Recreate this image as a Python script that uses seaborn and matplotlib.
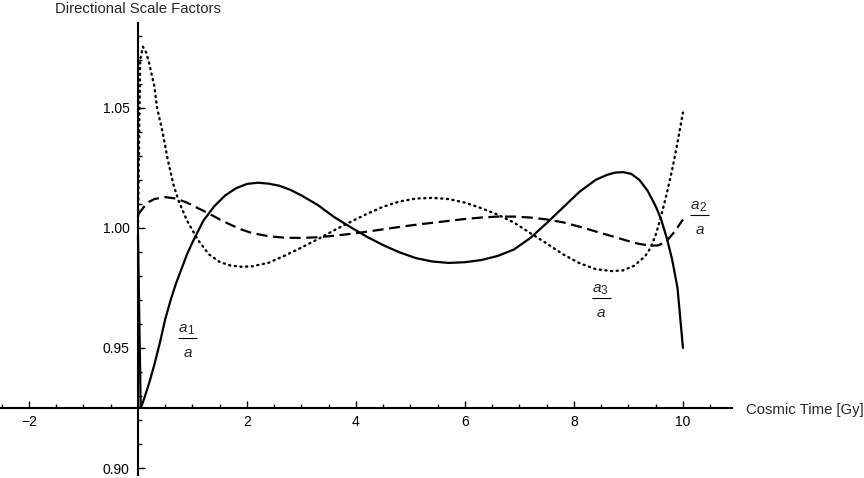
"""
Directional scale factors a_i/a versus cosmic time, drawn in the
Mathematica-like style with axes crossing inside the plot.
"""

import matplotlib
matplotlib.use("Agg")
import matplotlib.pyplot as plt
from matplotlib.ticker import MultipleLocator, FixedLocator, FuncFormatter
import seaborn as sns

# Values
T_A1 = [0.0, 0.05, 0.1, 0.2, 0.3, 0.4, 0.5, 0.6, 0.7, 0.8, 0.9, 1.0, 1.2, 1.4,
        1.6, 1.8, 2.0, 2.2, 2.4, 2.6, 2.8, 3.0, 3.3, 3.6, 3.9, 4.2, 4.5, 4.8,
        5.1, 5.4, 5.7, 6.0, 6.3, 6.6, 6.9, 7.2, 7.5, 7.8, 8.1, 8.4, 8.6, 8.75,
        8.9, 9.05, 9.2, 9.35, 9.5, 9.6, 9.7, 9.8, 9.9, 10.0]
A1 = [0.997, 0.925, 0.928, 0.935, 0.943, 0.952, 0.962, 0.970, 0.977, 0.983,
      0.989, 0.994, 1.003, 1.009, 1.0135, 1.0165, 1.0183, 1.0188, 1.0184,
      1.0175, 1.0158, 1.0135, 1.0095, 1.0045, 1.0003, 0.9963, 0.9928, 0.9898,
      0.9874, 0.9860, 0.9854, 0.9857, 0.9866, 0.9883, 0.9910, 0.9958, 1.0020,
      1.0085, 1.0150, 1.0200, 1.0220, 1.0230, 1.0232, 1.0225, 1.0200, 1.0155,
      1.0090, 1.0035, 0.9960, 0.9870, 0.9750, 0.9500]

T_A2 = [0.0, 0.1, 0.2, 0.3, 0.5, 0.7, 0.9, 1.1, 1.3, 1.5, 1.7, 1.9, 2.1, 2.4,
        2.7, 3.0, 3.3, 3.6, 3.9, 4.2, 4.5, 4.8, 5.1, 5.4, 5.7, 6.0, 6.3, 6.6,
        6.9, 7.2, 7.5, 7.8, 8.1, 8.4, 8.7, 9.0, 9.2, 9.4, 9.55, 9.7, 9.85, 10.0]
A2 = [1.0054, 1.0085, 1.0108, 1.0120, 1.0128, 1.0122, 1.0105, 1.0082, 1.0060,
      1.0035, 1.0013, 0.9993, 0.9978, 0.9965, 0.9959, 0.9958, 0.9961, 0.9967,
      0.9975, 0.9984, 0.9994, 1.0004, 1.0013, 1.0021, 1.0029, 1.0037, 1.0043,
      1.0047, 1.0047, 1.0043, 1.0035, 1.0023, 1.0005, 0.9985, 0.9965, 0.9945,
      0.9933, 0.9926, 0.9927, 0.9945, 0.9985, 1.0035]

T_A3 = [0.0, 0.04, 0.09, 0.15, 0.2, 0.3, 0.35, 0.45, 0.55, 0.65, 0.75, 0.9,
        1.1, 1.3, 1.5, 1.7, 1.9, 2.1, 2.4, 2.7, 3.0, 3.3, 3.6, 3.9, 4.2, 4.5,
        4.8, 5.1, 5.4, 5.7, 6.0, 6.3, 6.6, 6.9, 7.2, 7.5, 7.8, 8.1, 8.4, 8.7,
        8.9, 9.1, 9.3, 9.4, 9.5, 9.6, 9.7, 9.8, 9.9, 10.0]
A3 = [1.000, 1.070, 1.0754, 1.073, 1.069, 1.059, 1.050, 1.040, 1.028, 1.018,
      1.011, 1.003, 0.995, 0.989, 0.9858, 0.9843, 0.9838, 0.9840, 0.9855,
      0.9885, 0.9918, 0.9953, 0.9990, 1.0025, 1.0058, 1.0088, 1.0110, 1.0122,
      1.0125, 1.0120, 1.0105, 1.0082, 1.0055, 1.0022, 0.9978, 0.9935, 0.9890,
      0.9853, 0.9828, 0.9820, 0.9823, 0.9842, 0.9880, 0.9915, 0.9970, 1.0050,
      1.0140, 1.0240, 1.0355, 1.0480]

# curve labels (subscript, x, y of the fraction bar)
LABEL_SUBS = ["1", "2", "3"]
LABEL_X = [0.91, 10.31, 8.5]
LABEL_Y = [0.9542, 1.0054, 0.9708]

Y_TICKS = [0.90, 0.95, 1.00, 1.05]
X_TICKS = [-2, 2, 4, 6, 8, 10]

sns.set_style("white")
plt.rcParams["font.family"] = ["Liberation Sans", "DejaVu Sans"]

fig = plt.figure(figsize=(8.64, 4.78), dpi=100)
W, H = 864, 478
ax = fig.add_axes([0, 3 / H, 732 / W, 452 / H])

line_kw = dict(color="black", ax=ax, legend=False)
sns.lineplot(x=T_A1, y=A1, linewidth=1.6, linestyle="-", **line_kw)
sns.lineplot(x=T_A2, y=A2, linewidth=1.6, linestyle=(0, (5, 2.5)), **line_kw)
sns.lineplot(x=T_A3, y=A3, linewidth=1.7, linestyle=(0, (0.5, 1.9)),
             dash_capstyle="round", **line_kw)

ax.set_xlim(-2.532, 10.9)
ax.set_ylim(0.8971, 1.0853)

# axes crossing at (0, 0.925) like Mathematica's AxesOrigin
ax.spines["left"].set_position(("data", 0))
ax.spines["bottom"].set_position(("data", 0.925))
ax.spines["right"].set_visible(False)
ax.spines["top"].set_visible(False)
for s in ("left", "bottom"):
    ax.spines[s].set_linewidth(1.5)
    ax.spines[s].set_color("black")
    ax.spines[s].set_zorder(1)

ax.xaxis.set_major_locator(FixedLocator(X_TICKS))
ax.xaxis.set_minor_locator(MultipleLocator(0.5))
ax.yaxis.set_major_locator(FixedLocator(Y_TICKS))
ax.yaxis.set_minor_locator(MultipleLocator(0.01))
ax.xaxis.set_major_formatter(FuncFormatter(lambda v, p: f"{v:g}".replace("-", "\u2212")))
ax.yaxis.set_major_formatter(FuncFormatter(lambda v, p: f"{v:.2f}"))
ax.tick_params(which="both", direction="in", color="black", width=1.0,
               labelsize=10, labelcolor="black", bottom=True, left=True)
ax.tick_params(which="major", length=5, pad=6)
ax.tick_params(which="minor", length=3)
ax.tick_params(axis="x", which="major", pad=5)
ax.set_xlabel("")
ax.set_ylabel("")

# stacked fractions a_i / a, Mathematica style
for sub, lx, ly in zip(LABEL_SUBS, LABEL_X, LABEL_Y):
    ax.annotate("a", (lx, ly), xytext=(-3.4, 4), textcoords="offset points",
                ha="center", va="baseline", fontsize=11, style="italic")
    ax.annotate(sub, (lx, ly), xytext=(2.2, 3), textcoords="offset points",
                ha="center", va="baseline", fontsize=8.5)
    ax.annotate("a", (lx, ly), xytext=(0, -14), textcoords="offset points",
                ha="center", va="baseline", fontsize=11, style="italic")
    ax.hlines(ly, lx - 0.175, lx + 0.175, color="black", linewidth=0.8)

fig.text(55 / W, 1 - 9 / H, "Directional Scale Factors", fontsize=10.7,
         ha="left", va="center")
fig.text(746 / W, 1 - 410 / H, "Cosmic Time [Gy]", fontsize=10.7,
         ha="left", va="center")

fig.savefig("out.png", dpi=100)
